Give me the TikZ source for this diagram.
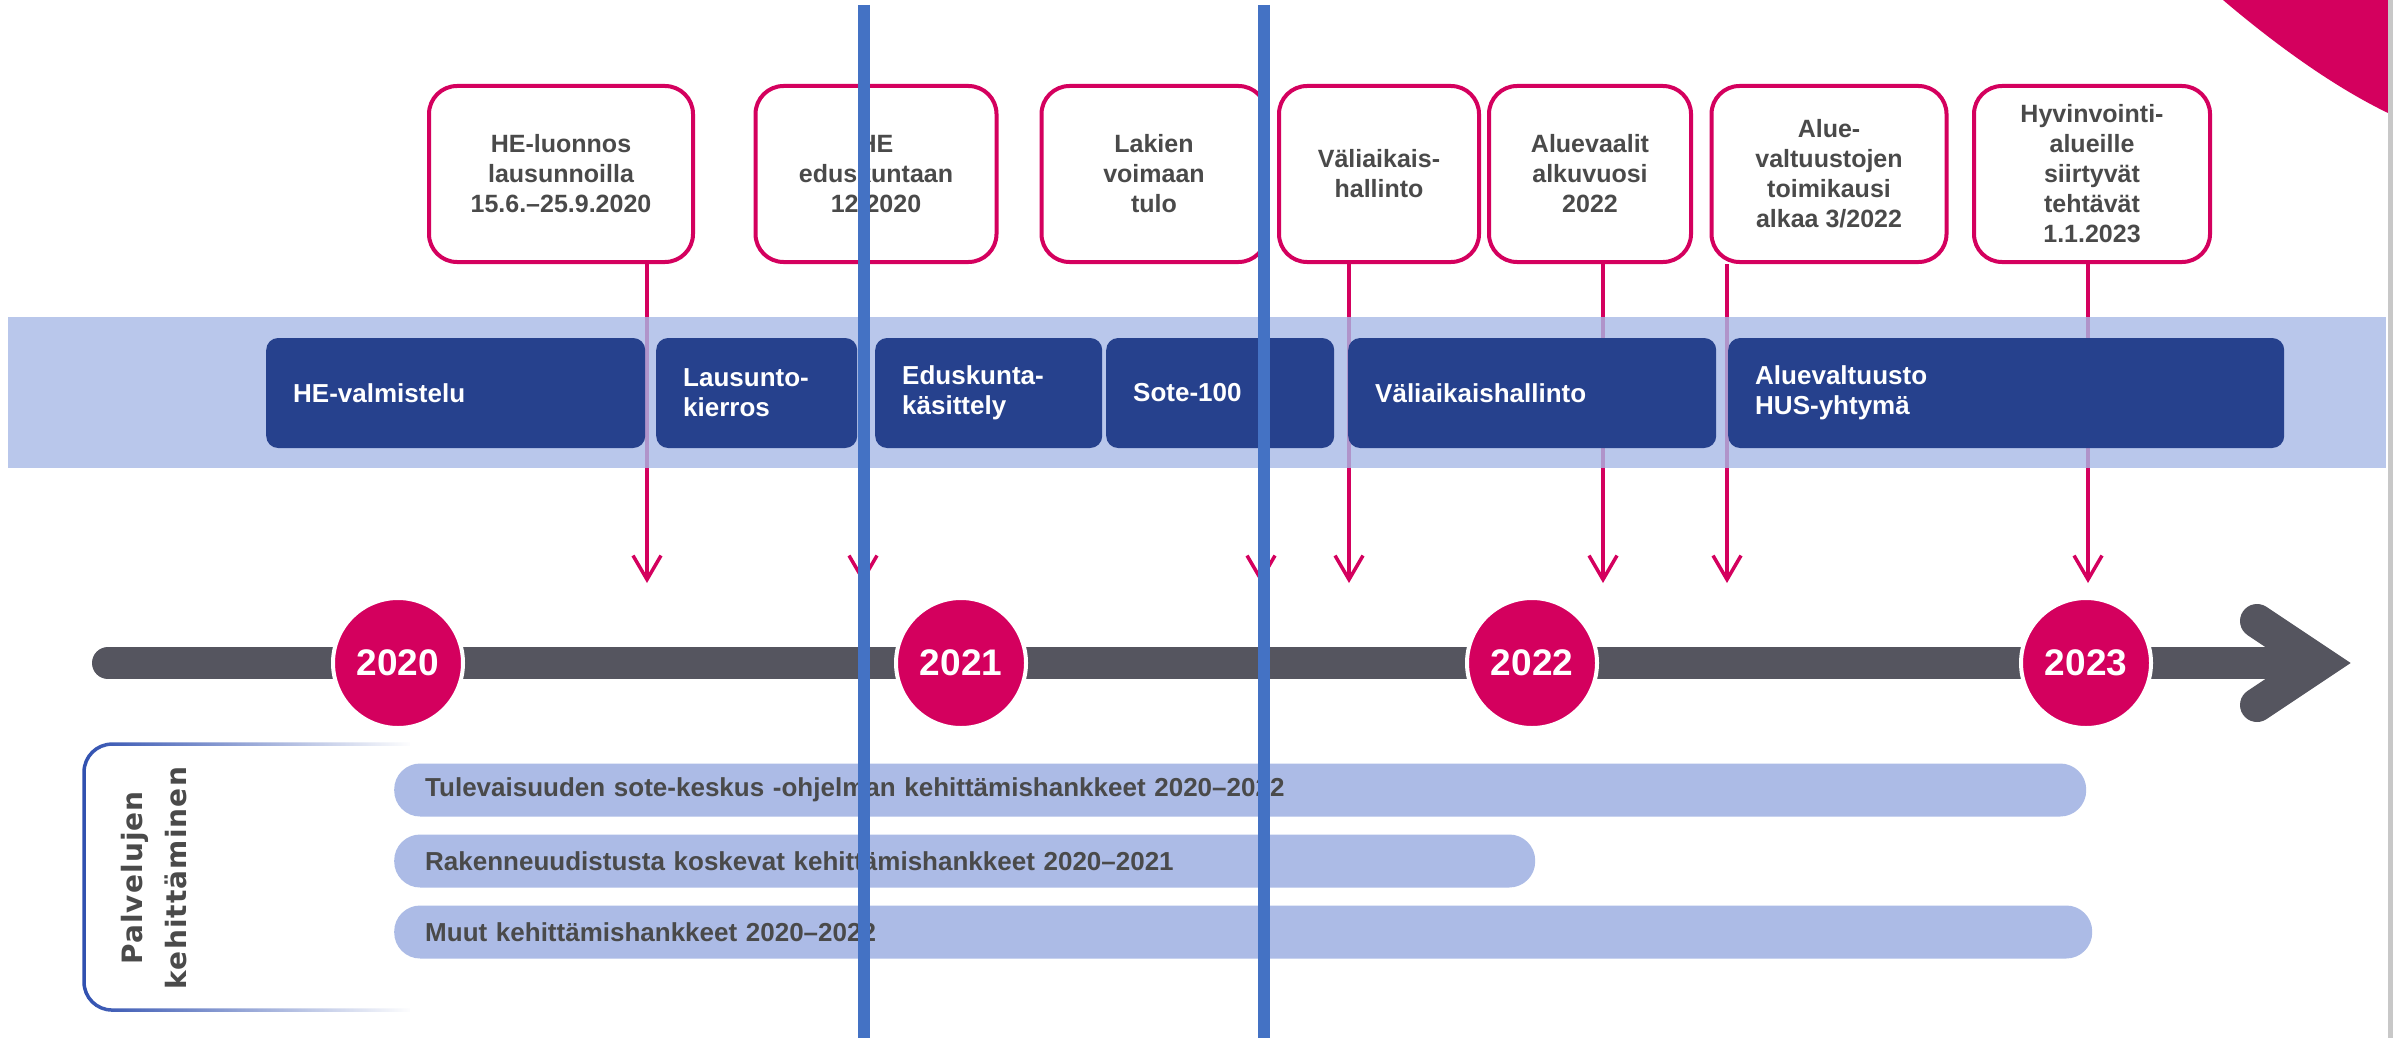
\documentclass[tikz,border=0pt]{standalone}
\usepackage{fontspec}
\setmainfont{Liberation Sans}
\newfontfamily\dejavu{DejaVu Sans}[BoldFont={DejaVu Sans Bold}, LetterSpace=4]
\usetikzlibrary{arrows.meta,fadings}

\definecolor{hpink}{HTML}{D4005E}
\definecolor{navy}{HTML}{26418D}
\definecolor{bandblue}{HTML}{A8BAE6}
\definecolor{barblue}{HTML}{ACBBE6}
\definecolor{axisgray}{HTML}{55555F}
\definecolor{textgray}{HTML}{4A4A4A}
\definecolor{markblue}{HTML}{4472C4}
\definecolor{brkblue}{HTML}{3050B0}
\definecolor{edgegray}{HTML}{C8C8C8}

\tikzset{
  callout/.style={draw=hpink, line width=4pt, rounded corners=28pt, fill=white, minimum height=176pt, inner sep=0pt, align=center, text=textgray, font=\bfseries\fontsize{25}{30}\selectfont},
  phase/.style={fill=navy, rounded corners=12pt, minimum height=110pt, inner xsep=27pt, text width=#1, align=left, text=white, font=\bfseries\fontsize{26}{30}\selectfont},
  conn/.style={draw=hpink, line width=3.5pt, -{Straight Barb[length=24pt, width=28pt]}},
  year/.style={circle, fill=hpink, draw=white, line width=4pt, minimum size=130pt, inner sep=0pt, text=white, font=\bfseries\fontsize{37}{40}\selectfont},
  track/.style={fill=barblue, rounded corners=26pt, minimum height=53pt, inner xsep=31pt, text width=#1, align=left, text=textgray, font=\bfseries\fontsize{26}{30}\selectfont},
}

\begin{document}
\begin{tikzpicture}[x=1pt, y=-1pt]

\fill[white] (0,0) rectangle (2403,1038);
\useasboundingbox (0,0) rectangle (2403,1038);

\fill[hpink] (2223,0) .. controls (2270,40) and (2330,85) .. (2388,113) -- (2388,0) -- cycle;
\draw[edgegray, line width=5pt] (2390,0) -- (2390,1038);

\node[callout, minimum width=264pt] (c1) at (561,174) {HE-luonnos\\lausunnoilla\\15.6.–25.9.2020};
\node[callout, minimum width=241pt] (c2) at (876,174) {HE\\eduskuntaan\\12/2020};
\node[callout, minimum width=225pt] (c3) at (1154,174) {Lakien\\voimaan\\tulo};
\node[callout, minimum width=200pt] (c4) at (1379,174) {Väliaikais-\\hallinto};
\node[callout, minimum width=202pt] (c5) at (1590,174) {Aluevaalit\\alkuvuosi\\2022};
\node[callout, minimum width=235pt] (c6) at (1829,174) {Alue-\\valtuustojen\\toimikausi\\alkaa 3/2022};
\node[callout, minimum width=236pt] (c7) at (2092,174) {Hyvinvointi-\\alueille\\siirtyvät\\tehtävät\\1.1.2023};

\coordinate (t1) at (647,583);
\coordinate (t2) at (863,583);
\coordinate (t3) at (1261,583);
\coordinate (t4) at (1349,583);
\coordinate (t5) at (1603,583);
\coordinate (t6) at (1727,583);
\coordinate (t7) at (2088,583);

\draw[conn] (c1.south -| t1) -- (t1);
\draw[conn] (c2.south -| t2) -- (t2);
\draw[conn] (c3.south -| t3) -- (t3);
\draw[conn] (c4.south -| t4) -- (t4);
\draw[conn] (c5.south -| t5) -- (t5);
\draw[conn] (c6.south -| t6) -- (t6);
\draw[conn] (c7.south -| t7) -- (t7);

\fill[bandblue, fill opacity=0.8] (8,317) rectangle (2386,468);

\node[phase=325pt, anchor=west] (p1) at (266,393) {HE-valmistelu};
\node[phase=147pt, anchor=west] (p2) at (656,393) {Lausunto-\\kierros};
\node[phase=173pt, anchor=west] (p3) at (875,393) {Eduskunta-\\käsittely};
\node[phase=174pt, anchor=west] (p4) at (1106,393) {Sote-100};
\node[phase=314pt, anchor=west] (p5) at (1348,393) {Väliaikaishallinto};
\node[phase=502pt, anchor=west] (p6) at (1728,393) {Aluevaltuusto\\HUS-yhtymä};

\coordinate (a0) at (108,663);
\coordinate (a1) at (2290,663);
\draw[axisgray, line width=32pt, line cap=round] (a0) -- (a1);
\draw[axisgray, line width=34pt, line cap=round, line join=miter] (2257,621) -- (2320,663) -- (2257,705);

\node[year] (y20) at (398,663) {2020};
\node[year] (y21) at (961,663) {2021};
\node[year] (y22) at (1532,663) {2022};
\node[year] (y23) at (2086,663) {2023};

\draw[brkblue, line width=3.5pt, rounded corners=28pt, path fading=east] (410,744) -- (84,744) -- (84,1010) -- (410,1010);
\node[rotate=90, align=center, text=textgray, font=\dejavu\bfseries\fontsize{28}{44}\selectfont] (pk) at (154,878) {Palvelujen\\kehittäminen};

\node[track=1630pt, anchor=west] (k1) at (394,790) {Tulevaisuuden sote-keskus -ohjelman kehittämishankkeet 2020–2022};
\node[track=1079pt, anchor=west] (k2) at (394,861) {Rakenneuudistusta koskevat kehittämishankkeet 2020–2021};
\node[track=1636pt, anchor=west] (k3) at (394,932) {Muut kehittämishankkeet 2020–2022};

\draw[markblue, line width=12pt] (864,5) -- (864,1038);
\draw[markblue, line width=12pt] (1264,5) -- (1264,1038);

\end{tikzpicture}
\end{document}
